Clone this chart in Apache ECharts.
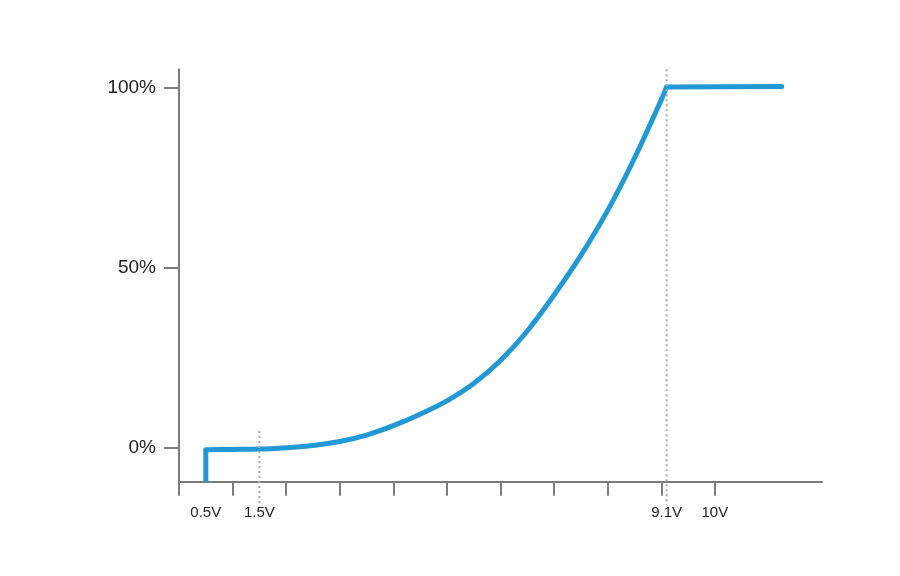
<!DOCTYPE html>
<html>
<head>
<meta charset="utf-8">
<script src="https://cdn.jsdelivr.net/npm/echarts@6/dist/echarts.min.js"></script>
<style>html,body{margin:0;padding:0;background:#fff}#c{width:900px;height:576px}</style>
</head>
<body>
<div id="c"></div>
<script>
// Data (volts, percent)
const dropVolts = [0.5, 0.5];
const dropPct = [-9.36, -0.5];
const curveVolts = [0.5, 1.0, 1.5, 2.0, 2.5, 3.0, 3.5, 4.0, 4.5, 5.0, 5.5, 6.0, 6.5, 7.0, 7.5, 8.0, 8.5, 9.0, 9.1];
const curvePct = [-0.5, -0.4, -0.3, 0.1, 0.7, 1.8, 3.6, 6.2, 9.4, 13.1, 17.9, 24.3, 32.5, 42.5, 53.5, 66, 80.5, 96.7, 100.3];
const plateauVolts = [9.1, 11.25];
const plateauPct = [100.3, 100.4];
const xTickValues = [0, 1, 2, 3, 4, 5, 6, 7, 8, 9, 10];
const xLabelValues = [0.5, 1.5, 9.1, 10];
const yTickValues = [0, 50, 100];
// dotted guide lines: [volt, top %, bottom %]
const guideLines = [[1.5, 4.7, -15.3], [9.1, 105.2, -15.8]];

const zip = (xs, ys) => xs.map((x, i) => [x, ys[i]]);
const blue = '#2199d5';
const axisColor = '#7c7c7c';

const chart = echarts.init(document.getElementById('c'));
chart.setOption({
  animation: false,
  grid: { left: 179, right: 78, top: 69.3, bottom: 94.3 },
  xAxis: {
    type: 'value', min: 0, max: 12,
    axisLine: { show: true, onZero: false, lineStyle: { color: axisColor, width: 2 } },
    axisTick: { show: true, customValues: xTickValues, length: 14, lineStyle: { color: axisColor, width: 2 } },
    axisLabel: { customValues: xLabelValues, formatter: v => v + 'V', margin: 24, fontSize: 15, color: '#222', fontFamily: 'Liberation Sans' },
    splitLine: { show: false }
  },
  yAxis: {
    type: 'value', min: -9.36, max: 105.2,
    axisLine: { show: true, onZero: false, lineStyle: { color: axisColor, width: 2 } },
    axisTick: { show: true, customValues: yTickValues, length: 15, lineStyle: { color: axisColor, width: 2 } },
    axisLabel: { customValues: yTickValues, formatter: v => v + '%', margin: 23, fontSize: 19, color: '#222', fontFamily: 'Liberation Sans' },
    splitLine: { show: false }
  },
  series: [
    { type: 'line', data: zip(dropVolts, dropPct), showSymbol: false, clip: false,
      lineStyle: { color: blue, width: 5, cap: 'butt', join: 'round' } },
    { type: 'line', data: zip(curveVolts, curvePct), showSymbol: false, smooth: 0.35, clip: false,
      lineStyle: { color: blue, width: 5, cap: 'round', join: 'round' } },
    { type: 'line', data: zip(plateauVolts, plateauPct), showSymbol: false, clip: false,
      lineStyle: { color: blue, width: 5, cap: 'round', join: 'round' } },
    { type: 'custom', data: guideLines, clip: false, z: 10, silent: true,
      encode: { x: 0, y: [1, 2] },
      renderItem: (params, api) => {
        const a = api.coord([api.value(0), api.value(1)]);
        const b = api.coord([api.value(0), api.value(2)]);
        return { type: 'line', shape: { x1: a[0], y1: a[1], x2: b[0], y2: b[1] },
          style: { stroke: '#a8a8a8', lineWidth: 2, lineDash: [2, 3] } };
      } }
  ]
});
</script>
</body>
</html>
